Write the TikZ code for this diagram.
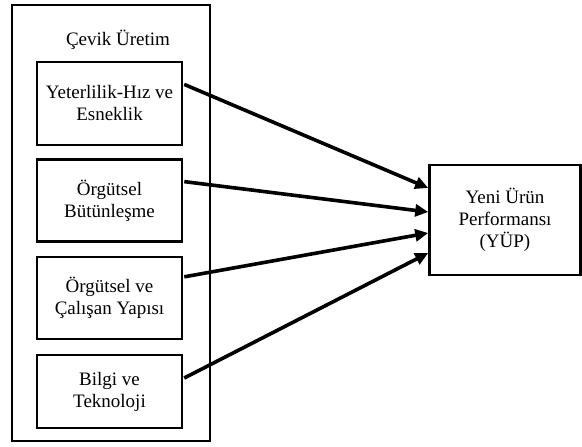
\documentclass[tikz,border=0pt]{standalone}
\usepackage{fontspec}
\setmainfont{Liberation Serif}
\usetikzlibrary{arrows.meta}
\begin{document}
\begin{tikzpicture}[x=1pt,y=-1pt,
  box/.style={draw, line width=2.6pt, inner sep=0pt, align=center, font=\fontsize{19}{22}\selectfont},
  arr/.style={line width=3.6pt, -{Triangle[length=13pt,width=12pt]}, shorten <=1pt}]
\useasboundingbox (0,0) rectangle (582,447);
\node[draw, line width=2.6pt, minimum width=198pt, minimum height=436pt, inner sep=0pt] (outer) at (111,223) {};
\node[font=\fontsize{19}{22}\selectfont] (title) at (118,40) {Çevik Üretim};
\node[box, minimum width=145pt, minimum height=83pt] (b1) at (109.5,103.5) {Yeterlilik-Hız ve\\Esneklik};
\node[box, minimum width=145pt, minimum height=82pt] (b2) at (109.5,200.5) {Örgütsel\\Bütünleşme};
\node[box, minimum width=145pt, minimum height=82pt] (b3) at (109.5,298) {Örgütsel ve\\Çalışan Yapısı};
\node[box, minimum width=145pt, minimum height=73pt] (b4) at (109.5,391.5) {Bilgi ve\\Teknoloji};
\node[box, minimum width=151pt, minimum height=110pt] (t) at (505,220) {Yeni Ürün\\Performansı\\(YÜP)};
\draw[arr] ([yshift=19.5pt]b1.east) -- ([yshift=32pt]t.west);
\draw[arr] ([yshift=19pt]b2.east) -- ([yshift=8pt]t.west);
\draw[arr] ([yshift=21pt]b3.east) -- ([yshift=-13pt]t.west);
\draw[arr] ([yshift=13pt]b4.east) -- ([yshift=-33pt]t.west);
\end{tikzpicture}
\end{document}
